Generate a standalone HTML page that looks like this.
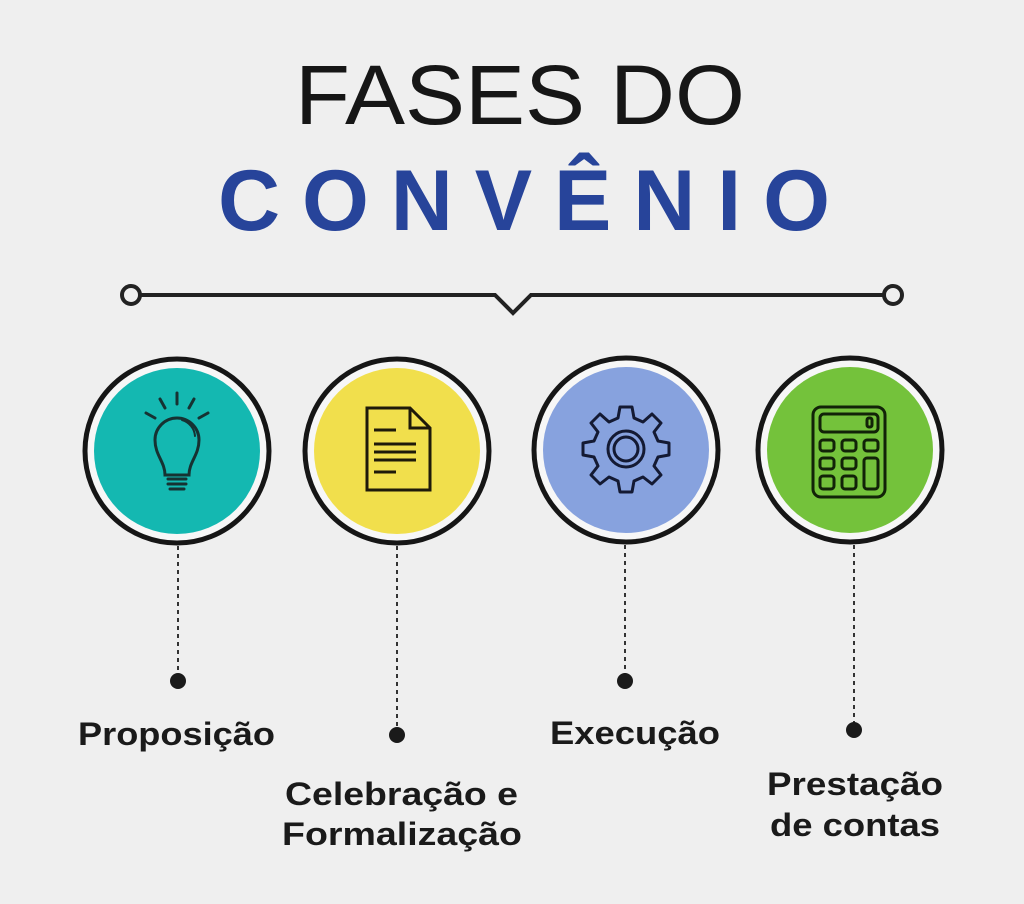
<!DOCTYPE html>
<html><head><meta charset="utf-8"><style>
html,body{margin:0;padding:0;background:#efefef;}
svg{display:block}
</style></head><body>
<svg width="1024" height="904" viewBox="0 0 1024 904" xmlns="http://www.w3.org/2000/svg">
<rect width="1024" height="904" fill="#efefef"/>
<text x="295" y="124" textLength="450" lengthAdjust="spacingAndGlyphs" font-family="Liberation Sans, sans-serif" font-size="84" fill="#161616">FASES DO</text>
<text x="218" y="230" textLength="612" lengthAdjust="spacing" font-family="Liberation Sans, sans-serif" font-weight="bold" font-size="86" fill="#27449a">CONVÊNIO</text>
<g fill="none" stroke="#222" stroke-width="4">
<circle cx="131" cy="295" r="9"/>
<circle cx="893" cy="295" r="9"/>
<path d="M140 295 H495 L513 313 L531 295 H884"/>
</g>
<g stroke="#161616" stroke-width="5">
<circle cx="177" cy="451" r="92" fill="#f7f7f7"/>
<circle cx="397" cy="451" r="92" fill="#f7f7f7"/>
<circle cx="626" cy="450" r="92" fill="#f7f7f7"/>
<circle cx="850" cy="450" r="92" fill="#f7f7f7"/>
</g>
<circle cx="177" cy="451" r="83" fill="#14b8b1"/>
<circle cx="397" cy="451" r="83" fill="#f1df4c"/>
<circle cx="626" cy="450" r="83" fill="#87a2de"/>
<circle cx="850" cy="450" r="83" fill="#74c23b"/>
<g fill="none" stroke="#163232" stroke-width="3" stroke-linecap="round">
<path d="M165 475 C165 462 155 455 155 440 A22 22 0 1 1 199 440 C199 455 189 462 189 475 Z"/>
<path d="M168 479 H186 M168 484 H186 M170 489 H184"/>
<path d="M177 393 V404 M160 399 L165 408 M194 399 L189 408 M146 413 L155 418 M208 413 L199 418"/>
<path d="M182 420 A18 18 0 0 1 195 436" stroke-width="2"/>
</g>
<g fill="none" stroke="#1e1a0a" stroke-width="3">
<path d="M367 408 H410 L430 428 V490 H367 Z"/>
<path d="M410 408 V428 H430"/>
<path d="M374 430 H396 M374 444 H416 M374 452 H416 M374 460 H416 M374 472 H396"/>
</g>
<g fill="none" stroke="#141a33" stroke-width="3">
<path d="M620 407 H632 L634 418 L643 422 L652 414 L661 423 L654 432 L658 441 L669 443 V455 L658 457 L654 466 L661 475 L652 484 L643 477 L634 481 L632 492 H620 L618 481 L609 477 L600 484 L591 475 L598 466 L594 457 L583 455 V443 L594 441 L598 432 L591 423 L600 414 L609 422 L618 418 Z" stroke-linejoin="round"/>
<circle cx="626" cy="449" r="18"/>
<circle cx="626" cy="449" r="12"/>
</g>
<g fill="none" stroke="#122308" stroke-width="3">
<rect x="813" y="407" width="72" height="90" rx="8"/>
<rect x="820" y="414" width="58" height="18" rx="4"/>
<rect x="867" y="418" width="5" height="9" rx="2"/>
<rect x="820" y="440" width="14" height="11" rx="3"/>
<rect x="842" y="440" width="14" height="11" rx="3"/>
<rect x="864" y="440" width="14" height="11" rx="3"/>
<rect x="820" y="458" width="14" height="11" rx="3"/>
<rect x="842" y="458" width="14" height="11" rx="3"/>
<rect x="820" y="476" width="14" height="13" rx="3"/>
<rect x="842" y="476" width="14" height="13" rx="3"/>
<rect x="864" y="458" width="14" height="31" rx="3"/>
</g>
<g stroke="#333" stroke-width="2" stroke-dasharray="4 4">
<path d="M178 546 V676"/>
<path d="M397 546 V730"/>
<path d="M625 545 V676"/>
<path d="M854 545 V725"/>
</g>
<g fill="#1a1a1a">
<circle cx="178" cy="681" r="8"/>
<circle cx="397" cy="735" r="8"/>
<circle cx="625" cy="681" r="8"/>
<circle cx="854" cy="730" r="8"/>
</g>
<g font-family="Liberation Sans, sans-serif" font-weight="bold" font-size="32" fill="#1a1a1a" lengthAdjust="spacingAndGlyphs">
<text x="78" y="745" textLength="197" lengthAdjust="spacingAndGlyphs">Proposição</text>
<text x="550" y="744" textLength="170" lengthAdjust="spacingAndGlyphs">Execução</text>
<text x="285" y="805" textLength="233" lengthAdjust="spacingAndGlyphs">Celebração e</text>
<text x="282" y="845" textLength="240" lengthAdjust="spacingAndGlyphs">Formalização</text>
<text x="767" y="795" textLength="176" lengthAdjust="spacingAndGlyphs">Prestação</text>
<text x="770" y="836" textLength="170" lengthAdjust="spacingAndGlyphs">de contas</text>
</g>
</svg>
</body></html>
